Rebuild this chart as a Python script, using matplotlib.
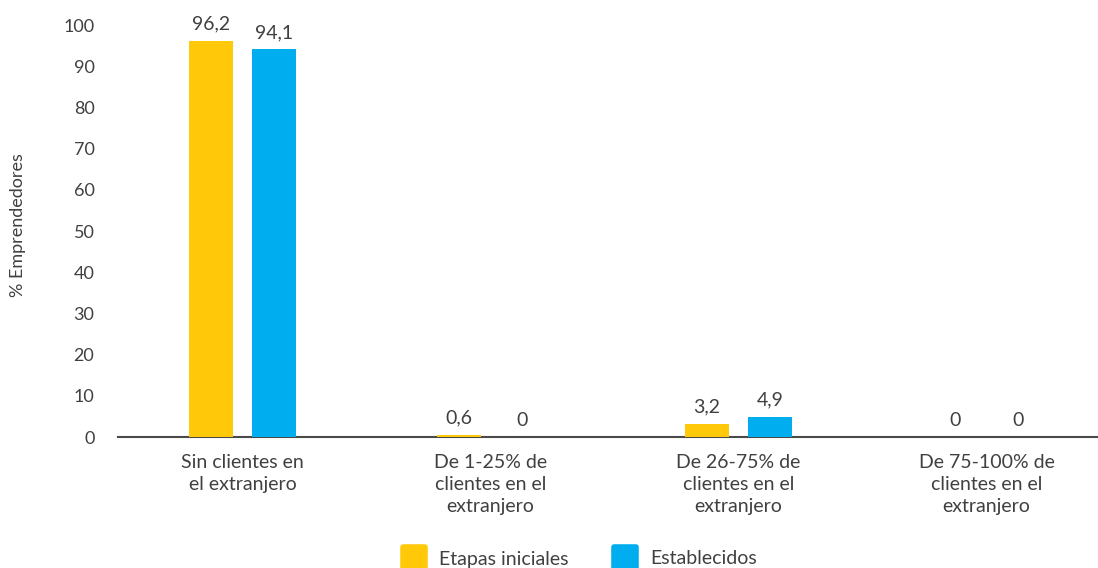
import matplotlib
matplotlib.use("Agg")
import matplotlib.pyplot as plt
from matplotlib.lines import Line2D
from matplotlib.markers import MarkerStyle
import numpy as np

categories = ["Sin clientes en\nel extranjero",
              "De 1-25% de\nclientes en el\nextranjero",
              "De 26-75% de\nclientes en el\nextranjero",
              "De 75-100% de\nclientes en el\nextranjero"]
etapas = [96.2, 0.6, 3.2, 0]
establecidos = [94.1, 0, 4.9, 0]
labels_etapas = ["96,2", "0,6", "3,2", "0"]
labels_est = ["94,1", "0", "4,9", "0"]
yticks = [0, 10, 20, 30, 40, 50, 60, 70, 80, 90, 100]

YEL = "#FFC90A"
BLU = "#00AEEF"
TXT = "#404040"
plt.rcParams['font.family'] = ['Lato', 'DejaVu Sans']

fig = plt.figure(figsize=(10.98, 5.68), dpi=100)
ax = fig.add_axes([118/1098, 1-437/568, 1-118/1098, (437-25)/568])

x = np.arange(len(categories))
w = 0.177
off = 0.127
b1 = ax.bar(x - off, etapas, w, color=YEL, zorder=3)
b2 = ax.bar(x + off, establecidos, w, color=BLU, zorder=3)
for bars, labs in ((b1, labels_etapas), (b2, labels_est)):
    for r, l in zip(bars, labs):
        ax.annotate(l, (r.get_x() + r.get_width()/2, r.get_height()),
                    xytext=(0, 6), textcoords="offset points",
                    ha="center", va="bottom", fontsize=14, color=TXT,
                    annotation_clip=False)

ax.set_xlim((118-242.5)/248, (1098-242.5)/248)
ax.set_ylim(0, 100)
ax.set_yticks(yticks)
ax.set_xticks(x)
ax.set_xticklabels(categories, fontsize=14, color=TXT, linespacing=1.38)
ax.tick_params(axis='y', length=0, labelsize=13, labelcolor=TXT, pad=17)
ax.tick_params(axis='x', length=0, pad=12)
for s in ("left", "right", "top"):
    ax.spines[s].set_visible(False)
ax.spines["bottom"].set_color("#4a4a4a")
ax.spines["bottom"].set_linewidth(1.5)
ax.spines["bottom"].set_zorder(2)
ax.set_ylabel("% Emprendedores", fontsize=13, color=TXT)
ax.yaxis.set_label_coords((26-118)/980, (437-225)/412)

ms = MarkerStyle('s', joinstyle='round')
handles = [Line2D([], [], marker=ms, linestyle='none', markersize=16, color=YEL,
                  markeredgewidth=4, markeredgecolor=YEL),
           Line2D([], [], marker=ms, linestyle='none', markersize=16, color=BLU,
                  markeredgewidth=4, markeredgecolor=BLU)]
fig.legend(handles, ["Etapas iniciales", "Establecidos"], loc="center",
           bbox_to_anchor=(576/1098, 1-559/568), ncol=2, frameon=False,
           fontsize=14, labelcolor=TXT, columnspacing=1.9, handletextpad=0.3)

fig.savefig("out.png", dpi=100)
